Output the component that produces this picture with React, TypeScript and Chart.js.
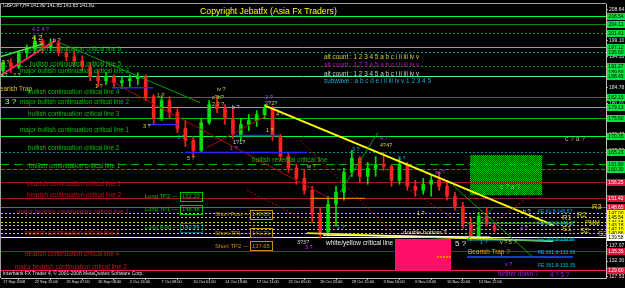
import { useEffect, useRef } from "react";
import { Chart, registerables } from "chart.js";

Chart.register(...registerables);

const FONT = '"Liberation Sans", Arial, sans-serif';

// ---- data ----
const dateLabels = ["17 Sep 2008", "22 Sep 15:00", "25 Sep 07:00", "30 Sep 08:00", "2 Oct 16:00", "7 Oct 09:00", "10 Oct 01:00", "14 Oct 19:00", "17 Oct 11:00", "22 Oct 05:00", "26 Oct 23:00", "29 Oct 15:00", "3 Nov 16:00", "6 Nov 03:00", "10 Nov 20:00", "13 Nov 12:00"];

const opens = [189.98, 192.40, 191.19, 195.42, 196.63, 199.04, 196.93, 198.44, 195.42, 194.21,
  193.00, 191.19, 188.17, 186.96, 188.17, 186.36, 186.96, 187.56, 188.17, 182.13,
  175.49, 180.92, 177.30, 172.47, 168.84, 165.82, 174.28, 179.71, 178.51, 175.49,
  170.66, 173.68, 174.88, 176.70, 178.51, 170.05, 164.01, 160.39, 157.36, 153.74,
  146.49, 141.06, 149.51, 153.14, 159.18, 163.41, 157.97, 160.39, 161.59, 160.99,
  156.76, 161.59, 154.95, 153.74, 155.55, 156.76, 154.95, 151.93, 148.91, 143.47,
  139.85, 145.89, 142.90];
const highs = [193.00, 193.60, 196.02, 197.83, 200.25, 199.65, 199.65, 199.04, 196.63, 196.02,
  194.51, 192.40, 189.98, 189.38, 188.77, 188.17, 188.77, 189.38, 188.77, 182.73,
  182.43, 182.13, 178.51, 174.88, 170.05, 175.49, 180.92, 182.13, 179.71, 179.11,
  175.49, 176.70, 177.90, 179.71, 179.11, 170.66, 165.22, 161.59, 159.78, 154.95,
  148.30, 151.93, 154.95, 160.39, 165.82, 164.01, 162.20, 164.01, 165.22, 161.59,
  163.41, 162.20, 156.76, 157.36, 158.57, 159.18, 156.76, 153.14, 150.12, 145.28,
  147.10, 148.30, 144.08];
const lows = [188.47, 189.38, 190.58, 193.60, 195.42, 195.42, 196.02, 194.51, 193.00, 191.79,
  189.98, 186.96, 185.15, 185.75, 185.15, 184.55, 185.15, 185.75, 180.92, 173.68,
  174.88, 175.49, 171.26, 167.03, 164.01, 165.22, 173.68, 177.30, 173.68, 169.45,
  168.84, 171.86, 173.07, 175.49, 168.84, 162.80, 159.18, 155.55, 152.53, 144.08,
  139.24, 139.85, 142.87, 150.72, 157.97, 156.16, 155.55, 157.97, 159.78, 154.95,
  155.55, 153.74, 151.93, 152.53, 151.93, 153.74, 150.72, 147.70, 142.26, 138.64,
  139.24, 142.87, 141.06];
const closes = [192.40, 191.19, 195.42, 196.63, 199.04, 196.93, 198.44, 195.42, 194.21, 193.00,
  191.19, 188.17, 186.96, 188.17, 186.36, 186.96, 187.56, 188.17, 182.13, 175.49,
  180.92, 177.30, 172.47, 168.84, 165.82, 174.28, 179.71, 178.51, 175.49, 170.66,
  173.68, 174.88, 176.70, 178.51, 170.05, 164.01, 160.39, 157.36, 153.74, 146.49,
  141.06, 149.51, 153.14, 159.18, 163.41, 157.97, 160.39, 161.59, 160.99, 156.76,
  161.59, 154.95, 153.74, 155.55, 156.76, 154.95, 151.93, 148.91, 143.47, 139.85,
  145.89, 144.08, 141.82];

const priceTicks = [127.53, 132.30, 137.07, 141.84, 146.61, 151.39, 156.16, 160.93, 165.70, 170.47,
  175.24, 180.01, 184.78, 189.56, 194.33, 199.10, 203.87, 208.64];

// horizontal levels: [price, style key]
const levels: [number, string][] = [
  [206.54, "gLime"], [204.11, "gDark"], [201.41, "gDot"], [197.12, "gLime"], [195.60, "teal"],
  [191.27, "gDot"], [189.60, "tag"], [188.45, "gLight"], [182.15, "gDark"], [179.13, "gLime"],
  [175.60, "gMid"], [170.35, "gLime"], [165.23, "teal"], [161.80, "gDash"], [160.30, "gFine"],
  [156.25, "maroon"], [151.42, "maroon"], [148.65, "pink"],
  [147.00, "yDot"], [145.54, "yDot"], [144.18, "yDot"], [143.18, "yDot"], [142.10, "yDot"], [140.86, "yDot"],
  [139.58, "cream"], [135.35, "purple"], [129.60, "pink"],
];

// trend lines: [x1 (bar index), price1, x2, price2, style]
const segments: [number, number, number, number, string][] = [
  [33.05, 179.41, 69.37, 143.17, "yTrend"],
  [38.34, 140.75, 69.37, 138.33, "yLow"],
  [40.36, 140.15, 61.42, 139.55, "wLow"],
  [-0.38, 188.47, 6.56, 199.04, "pinkTrend"],
  [-0.38, 194.21, 5.05, 198.13, "limeTrend"],
  [7.19, 198.43, 24.85, 180.32, "gThin"],
  [13.5, 186.96, 41.24, 151.32, "mThin"],
  [25.73, 166.72, 33.3, 176.39, "mThin"],
  [42.5, 153.13, 47.3, 171.25, "gThin"],
  [56.75, 155.25, 66.85, 133.5, "gThin"],
  [58.52, 138.64, 61.8, 148.63, "gThin"],
  [30.78, 153.74, 38.72, 144.07, "rDot"],
  [51.33, 153.74, 56.63, 145.59, "rDot"],
  [61.8, 143.77, 67.73, 154.34, "rDot"],
  [37.46, 168.84, 49.44, 140.15, "rDot"],
  [13.75, 184.84, 18.92, 184.84, "blue"],
  [18.29, 173.67, 22.07, 173.67, "blue"],
  [22.96, 165.21, 38.34, 165.21, "blue"],
  [29.26, 170.35, 34.94, 170.35, "blue"],
  [38.72, 151.32, 45.66, 151.32, "orange"],
  [54.74, 133.5, 56.63, 133.5, "orangeDot"],
  [58.52, 143.77, 71.89, 143.77, "feCyan"],
  [58.52, 138.64, 71.89, 138.64, "feCyan"],
  [58.52, 133.5, 71.89, 133.5, "feBlue"],
];

// rectangles: [x1, price1, x2, price2, style]
const boxes: [number, number, number, number, string][] = [
  [58.9, 164.31, 67.98, 152.23, "greenBox"],
  [49.44, 138.94, 56.5, 129.58, "pinkBox"],
];

// text notes: [text, x (bar index), price, style]
const ALT = "alt count : 1 2 3 4 5 a b c i ii iii iv v";
const notes: [string, number, number, string][] = [
  ["GBPJPY,H4 141.80 141.85 141.65 141.82", 0.0, 209.6, "hdr"],
  ["Copyright Jebatfx (Asia Fx Traders)", 24.85, 207.95, "copy"],
  [ALT, 40.49, 194.21, "altY"],
  [ALT, 40.49, 191.79, "altP"],
  [ALT, 40.49, 189.07, "altW"],
  ["subwave : a b c d e i ii iii iv v 1 2 3 4 5", 40.49, 186.81, "altC"],
  ["bullish continuation critical line 6", 3.41, 196.62, "crit"],
  ["bullish continuation critical line 5", 3.41, 192.09, "crit"],
  ["major bullish continuation critical line 3", 2.15, 189.68, "crit"],
  ["bullish continuation critical line 4", 3.16, 183.34, "crit"],
  ["major bullish continuation critical line 2", 2.15, 180.32, "crit"],
  ["bullish continuation critical line 3", 3.16, 176.69, "crit"],
  ["major bullish continuation critical line 1", 2.15, 171.86, "crit"],
  ["bullish continuation critical line 2", 3.16, 166.42, "crit"],
  ["bullish continuation critical line 1", 3.28, 160.99, "crit"],
  ["bearish continuation critical line 1", 3.03, 155.6, "bear"],
  ["bearish continuation critical line 2", 3.03, 152.23, "bear"],
  ["major bearish continuation critical line 1", 1.77, 147.10, "majBear"],
  ["bearish continuation critical line 3", 2.78, 140.76, "bear"],
  ["bearish continuation critical line 4", 2.78, 134.41, "bear"],
  ["major bearish continuation critical line 2", 1.52, 130.49, "bear"],
  ["Long TP2 \u2014", 17.91, 151.93, "long"], ["152.20", 22.58, 151.93, "longBox"],
  ["Long TP1 \u2014", 17.91, 148.00, "long"], ["148.48", 22.58, 148.00, "longBox"],
  ["Long Post \u2014", 17.91, 142.57, "long"], ["142.84", 22.58, 142.57, "postBox"],
  ["Short Post \u2014", 26.74, 146.49, "short"], ["146.85", 31.4, 146.49, "shortBox"],
  ["Short TP1 \u2014", 26.74, 140.76, "short"], ["141.21", 31.4, 140.76, "shortBox"],
  ["Short TP2 \u2014", 26.74, 136.83, "short"], ["137.65", 31.4, 136.83, "shortBox"],
  ["4 2 4 ?", 3.66, 202.36, "wp"],
  ["4 2", 3.66, 199.95, "bigY"],
  ["4 ?", 3.91, 198.13, "wy"],
  ["b ?", 6.31, 199.04, "ww"],
  ["2 ?", -0.12, 192.40, "wy"],
  ["b ?", -0.38, 188.47, "wy"],
  ["2 ?", 1.26, 188.47, "wy"],
  ["Bearish Trap", 3.66, 184.24, "trapL"],
  ["3 ?", 0.26, 180.62, "bigW"],
  ["1 ?", 11.6, 185.15, "wy"],
  ["3 ?", 17.66, 173.07, "wy"],
  ["1 ?", 19.42, 182.43, "wy"],
  ["3 ?", 21.95, 169.75, "wc"],
  ["5 ?", 23.21, 163.41, "wy"],
  ["iv ?", 26.99, 184.24, "wy"],
  ["c?b?", 26.36, 181.83, "wy"],
  ["2 ? ?", 26.36, 179.71, "wy"],
  ["b ?", 28.88, 178.81, "ww"],
  ["2 ?", 33.05, 181.83, "wp"],
  ["2?2?", 33.05, 180.02, "wy"],
  ["4 ?", 34.43, 176.69, "wy"],
  ["1 ?", 33.17, 171.86, "wy"],
  ["1?1?", 29.01, 168.24, "ww"],
  ["1 ?", 28.63, 166.42, "wp"],
  ["bullish reversal critical line", 31.41, 162.80, "rev"],
  ["w ?", 38.34, 160.99, "wy"],
  ["3 ?", 44.02, 166.12, "wc"],
  ["4 ?", 47.55, 169.45, "wp"],
  ["4?4?", 47.55, 167.33, "wy"],
  ["5 ?", 49.82, 163.41, "wc"],
  ["3?3?", 37.08, 138.04, "ww"],
  ["3 ?", 38.09, 136.53, "wp"],
  ["1 ?", 42.13, 142.57, "wc"],
  ["white/yellow critical line", 40.74, 137.73, "wyl"],
  ["double bottom ?", 50.45, 141.06, "dbl"],
  ["wv?", 54.48, 159.18, "wp"],
  ["1 ?", 52.21, 146.79, "wy"],
  ["5 ?", 57.01, 137.43, "bigW"],
  ["v ? 5 ?", 62.68, 138.04, "wy"],
  ["a ?", 65.21, 142.26, "wp"],
  ["b ?", 65.58, 147.40, "ww"],
  ["1 ?", 60.16, 138.04, "wc"],
  ["x ?", 63.31, 131.39, "wp"],
  ["Bearish Trap ?", 58.65, 135.02, "trap"],
  ["further down ?", 62.43, 128.37, "down"],
  ["4 ? 5 ?", 68.99, 127.9, "down"],
  ["c ? a ?", 70.88, 169.14, "gray"],
  ["c ? a ?", 62.68, 154.65, "gray"],
  ["R3", 74.29, 148.61, "rs"],
  ["R2", 72.39, 146.19, "rs"],
  ["R1", 70.5, 145.28, "rs"],
  ["PMM", 73.4, 143.77, "pmm"],
  ["S1", 70.5, 141.96, "rs"],
  ["S2", 72.77, 141.36, "rs"],
  ["S3", 75.04, 140.45, "rs"],
  ["FE 61.8-146.57", 67.47, 147.40, "fe"],
  ["FE 100.0-143.27", 67.47, 143.77, "fe"],
  ["FE 161.8-139.86", 67.47, 138.94, "fe"],
  ["FE 261.8-133.96", 67.47, 134.71, "fe"],
  ["FE 361.8-130.35", 67.47, 130.79, "fe"],
  ["Interbank FX Trader 4, \u00a9 2001-2008 MetaQuotes Software Corp.", 0.0, 128.37, "ib"],
];

// ---- styles ----
const levelStyles: Record<string, any> = {
  gLime: { line: true, color: "#00ff30", dash: [], bg: "#00e640", fg: "#000" },
  gLight: { line: true, color: "#40ff90", dash: [], bg: "#00e640", fg: "#000" },
  gMid: { line: true, color: "#00c000", dash: [], bg: "#00e640", fg: "#000" },
  gDark: { line: true, color: "#009000", dash: [], bg: "#00e640", fg: "#000" },
  gDot: { line: true, color: "#00a000", dash: [2, 2], bg: "#00e640", fg: "#000" },
  teal: { line: true, color: "#009090", dash: [2, 2], bg: "#00e640", fg: "#000" },
  gDash: { line: true, color: "#00b000", dash: [8, 5], bg: "#00e640", fg: "#000" },
  gFine: { line: true, color: "#00a000", dash: [4, 2], bg: "#00e640", fg: "#000" },
  tag: { line: false, bg: "#00e640", fg: "#000" },
  maroon: { line: true, color: "#a01c1c", dash: [], bg: "#dc143c", fg: "#fff" },
  pink: { line: true, color: "#ff1a70", dash: [], bg: "#dc143c", fg: "#fff" },
  yDot: { line: true, color: "#d8d800", dash: [2, 2], bg: "#ffff00", fg: "#000" },
  cream: { line: true, color: "#fffbe0", dash: [], bg: "#ffffff", fg: "#000" },
  purple: { line: true, color: "#8a00b0", dash: [], bg: "#dc143c", fg: "#fff" },
};

const segStyles: Record<string, any> = {
  yTrend: { color: "#ffff00", width: 2, dash: [] },
  yLow: { color: "#e8e800", width: 1.8, dash: [] },
  wLow: { color: "#ffffff", width: 1.2, dash: [] },
  pinkTrend: { color: "#ff2060", width: 1.8, dash: [] },
  limeTrend: { color: "#40ff40", width: 1.5, dash: [] },
  gThin: { color: "#00a000", width: 1, dash: [] },
  mThin: { color: "#a01010", width: 1, dash: [] },
  rDot: { color: "#b01010", width: 1, dash: [2, 2] },
  blue: { color: "#2828ff", width: 1.5, dash: [] },
  orange: { color: "#ff8c00", width: 1, dash: [] },
  orangeDot: { color: "#ff8000", width: 2, dash: [2, 1] },
  feCyan: { color: "#00a0b0", width: 1, dash: [] },
  feBlue: { color: "#2050ff", width: 1.5, dash: [] },
};

const boxStyles: Record<string, any> = {
  greenBox: { pattern: true, over: false },
  pinkBox: { fill: "#ff1068", over: true },
};

const noteStyles: Record<string, any> = {
  hdr: { color: "#e8e8e8", size: 4.9 },
  copy: { color: "#ffff00", size: 8.7 },
  altY: { color: "#d8d040", size: 6.4 },
  altP: { color: "#c000c0", size: 6.4 },
  altW: { color: "#d0d0d0", size: 6.4 },
  altC: { color: "#20a8d0", size: 6.4 },
  crit: { color: "#00c000", size: 6.4 },
  bear: { color: "#c01818", size: 6.4 },
  majBear: { color: "#a01860", size: 6.4 },
  long: { color: "#00c000", size: 5.8 },
  longBox: { color: "#00c000", size: 5.8, box: true },
  postBox: { color: "#00c0a0", size: 5.8, box: true, boxDash: [1, 1] },
  short: { color: "#c89010", size: 5.8 },
  shortBox: { color: "#c89010", size: 5.8, box: true },
  wy: { color: "#d8d050", size: 5.5 },
  ww: { color: "#d8d8d8", size: 5.5 },
  wp: { color: "#c040ff", size: 5.5 },
  wc: { color: "#20b0d0", size: 5.5 },
  bigW: { color: "#e0e0e0", size: 8 },
  bigY: { color: "#e0e050", size: 7.5 },
  trapL: { color: "#e0c020", size: 6.4, align: "right" },
  trap: { color: "#d8b020", size: 6.4 },
  down: { color: "#a020e0", size: 6.3 },
  dbl: { color: "#f0f0c0", size: 6.1 },
  rev: { color: "#00c000", size: 6.5 },
  wyl: { color: "#f0f0f0", size: 6.5 },
  fe: { color: "#00b8e8", size: 5 },
  rs: { color: "#d8d040", size: 7.5 },
  pmm: { color: "#d8d040", size: 6.4 },
  gray: { color: "#b0b0b0", size: 6.7 },
  ib: { color: "#e0e0e0", size: 4.9 },
};

const UP = "#00e000";
const DOWN = "#ff2020";

let dotPattern: CanvasPattern | null = null;
function greenDots(ctx: CanvasRenderingContext2D) {
  if (!dotPattern) {
    const c = document.createElement("canvas");
    c.width = 2; c.height = 2;
    const g = c.getContext("2d")!;
    g.fillStyle = "#003800"; g.fillRect(0, 0, 2, 2);
    g.fillStyle = "#00c000"; g.fillRect(0, 0, 1, 1); g.fillRect(1, 1, 1, 1);
    dotPattern = ctx.createPattern(c, "repeat");
  }
  return dotPattern!;
}

function drawBoxes(chart: any, over: boolean) {
  const { ctx, scales: { x, y } } = chart;
  for (const [x1, p1, x2, p2, k] of boxes) {
    const st = boxStyles[k];
    if (st.over !== over) continue;
    const L = x.getPixelForValue(x1), R = x.getPixelForValue(x2);
    const T = y.getPixelForValue(p1), B = y.getPixelForValue(p2);
    ctx.fillStyle = st.pattern ? greenDots(ctx) : st.fill;
    ctx.fillRect(Math.round(L), Math.round(T), Math.round(R - L), Math.round(B - T));
  }
}

const overlay = {
  id: "overlay",
  beforeDraw(chart: any) {
    const { ctx, width, height } = chart;
    ctx.save();
    ctx.fillStyle = "#000";
    ctx.fillRect(0, 0, width, height);
    ctx.restore();
  },
  beforeDatasetsDraw(chart: any) {
    const { ctx, chartArea: a, scales: { y } } = chart;
    ctx.save();
    ctx.beginPath(); ctx.rect(a.left, a.top, a.right - a.left, a.bottom - a.top); ctx.clip();
    drawBoxes(chart, false);
    for (const [p, k] of levels) {
      const st = levelStyles[k];
      if (!st.line) continue;
      const py = Math.round(y.getPixelForValue(p)) + 0.5;
      ctx.strokeStyle = st.color; ctx.lineWidth = 1; ctx.setLineDash(st.dash);
      ctx.beginPath(); ctx.moveTo(a.left, py); ctx.lineTo(a.right, py); ctx.stroke();
    }
    ctx.setLineDash([]);
    drawBoxes(chart, true);
    ctx.restore();
  },
  afterDatasetsDraw(chart: any) {
    const { ctx, chartArea: a, scales: { x, y } } = chart;
    ctx.save();
    ctx.beginPath(); ctx.rect(a.left, a.top, a.right - a.left, a.bottom - a.top); ctx.clip();
    for (const [x1, p1, x2, p2, k] of segments) {
      const st = segStyles[k];
      ctx.strokeStyle = st.color; ctx.lineWidth = st.width; ctx.setLineDash(st.dash);
      ctx.beginPath();
      ctx.moveTo(x.getPixelForValue(x1), y.getPixelForValue(p1));
      ctx.lineTo(x.getPixelForValue(x2), y.getPixelForValue(p2));
      ctx.stroke();
    }
    ctx.setLineDash([]);
    for (const [text, xi, p, k] of notes) {
      const st = noteStyles[k];
      const px = x.getPixelForValue(xi), py = y.getPixelForValue(p);
      ctx.font = `${st.size}px ${FONT}`;
      ctx.textAlign = st.align || "left";
      ctx.textBaseline = "middle";
      ctx.fillStyle = st.color;
      if (st.box) {
        const w = ctx.measureText(text).width;
        ctx.strokeStyle = st.color; ctx.lineWidth = 1; ctx.setLineDash(st.boxDash || []);
        ctx.strokeRect(Math.round(px - 2) + 0.5, Math.round(py - st.size * 0.8) + 0.5, Math.round(w + 4), Math.round(st.size * 1.6));
        ctx.setLineDash([]);
      }
      ctx.fillText(text, px, py);
    }
    ctx.restore();
    ctx.save();
    ctx.strokeStyle = "#a0a0a0"; ctx.lineWidth = 1;
    ctx.beginPath();
    ctx.moveTo(a.left - 0.5, a.bottom); ctx.lineTo(a.left - 0.5, a.top - 0.5); ctx.lineTo(a.right, a.top - 0.5);
    ctx.stroke();
    ctx.restore();
  },
  afterDraw(chart: any) {
    const { ctx, chartArea: a, scales: { y }, width } = chart;
    ctx.save();
    const x0 = a.right + 1;
    const w = width - x0;
    ctx.font = `5px ${FONT}`;
    ctx.textBaseline = "middle";
    ctx.textAlign = "center";
    for (const [p, k] of levels) {
      const st = levelStyles[k];
      const py = Math.round(y.getPixelForValue(p));
      ctx.fillStyle = st.bg;
      ctx.fillRect(x0, py - 3, w, 7);
      ctx.fillStyle = st.fg;
      ctx.fillText(p.toFixed(2), x0 + w / 2, py + 0.5);
    }
    ctx.restore();
  },
};

export default function App() {
  const ref = useRef<HTMLCanvasElement>(null);
  useEffect(() => {
    document.body.style.margin = "0";
    document.body.style.background = "#000";
    const canvas = ref.current!;
    const colors = closes.map((c, i) => (c >= opens[i] ? UP : DOWN));
    const chart = new Chart(canvas, {
      type: "bar",
      data: {
        datasets: [
          {
            label: "wick",
            data: highs.map((h, i) => ({ x: i, y: [lows[i], h] })) as any,
            backgroundColor: colors,
            barThickness: 1,
            grouped: false,
            order: 2,
          } as any,
          {
            label: "body",
            data: opens.map((o, i) => ({ x: i, y: [o, closes[i]] })) as any,
            backgroundColor: colors,
            barThickness: 3,
            minBarLength: 1,
            grouped: false,
            order: 1,
          } as any,
        ],
      },
      options: {
        responsive: false,
        devicePixelRatio: 1,
        animation: false,
        layout: { padding: { left: 1, top: 3, right: 0, bottom: 0 } },
        plugins: { legend: { display: false }, tooltip: { enabled: false } },
        scales: {
          x: {
            type: "linear",
            min: -0.25,
            max: 76.05,
            offset: false,
            afterBuildTicks: (s: any) => { s.ticks = dateLabels.map((_, k) => ({ value: k * 4 })); },
            afterFit: (s: any) => { s.height = 10; },
            ticks: {
              autoSkip: false, maxRotation: 0, minRotation: 0, align: "start", padding: 0,
              color: "#e0e0e0", font: { size: 3.9, family: FONT },
              callback: (v: any) => dateLabels[Math.round(Number(v) / 4)] ?? "",
            },
            grid: { display: true, drawOnChartArea: false, drawTicks: true, tickLength: 2, color: "#b0b0b0" },
            border: { display: true, color: "#c0c0c0" },
          } as any,
          y: {
            type: "linear",
            position: "right",
            min: 127.16,
            max: 210.21,
            afterBuildTicks: (s: any) => { s.ticks = priceTicks.map((v) => ({ value: v })); },
            afterFit: (s: any) => { s.width = 19; },
            ticks: {
              color: "#e0e0e0", font: { size: 5, family: FONT }, padding: 1,
              callback: (v: any) => Number(v).toFixed(2),
            },
            grid: { display: true, drawOnChartArea: false, drawTicks: true, tickLength: 2, color: "#b0b0b0" },
            border: { display: true, color: "#c0c0c0" },
          } as any,
        },
      },
      plugins: [overlay],
    });
    return () => chart.destroy();
  }, []);
  return <canvas ref={ref} width={625} height={288} style={{ display: "block", width: 625, height: 288 }} />;
}
